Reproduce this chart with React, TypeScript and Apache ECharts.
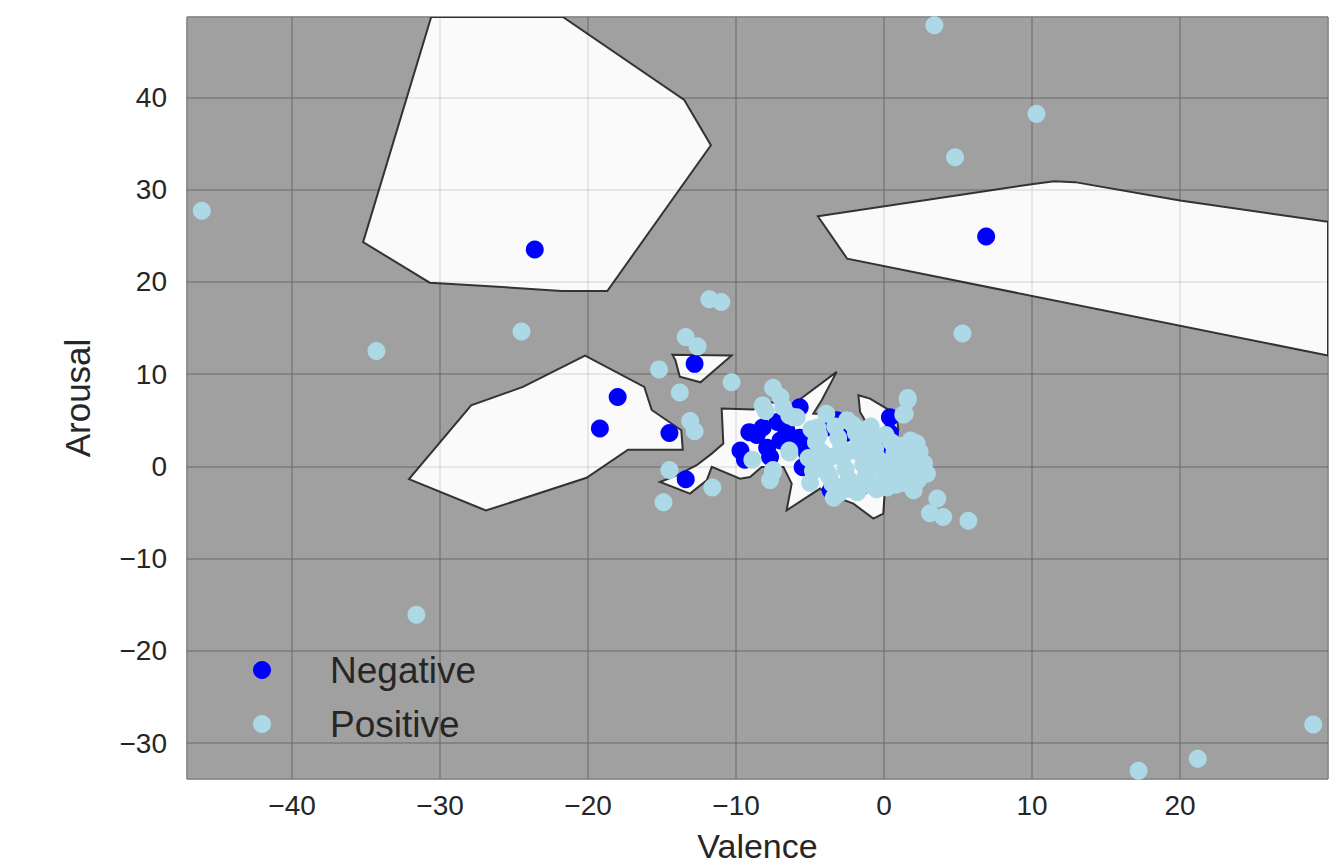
import React, { useEffect, useRef } from "react";
import * as echarts from "echarts";

const xMin = -47.1;
const xMax = 30;
const yMin = -33.9;
const yMax = 48.7;

const seriesNames = ["Negative", "Positive"];

const negativePoints: number[][] = [
  [-23.6, 23.5], [6.9, 24.9], [-12.8, 11.1], [-18.0, 7.5], [-19.2, 4.1], [-14.5, 3.6], [-13.4, -1.4],
  [-5.7, 6.4], [-9.1, 3.7], [-8.2, 4.2], [-7.2, 4.8], [-9.7, 1.7], [-9.4, 0.7], [-7.7, 1.0],
  [-7.0, 2.8], [-5.7, 3.1], [-5.2, 1.4], [-5.5, -0.1], [-3.6, 4.2], [-3.2, 5.0], [-3.6, -2.6],
  [-2.1, -2.3], [0.4, 5.3], [0.4, 3.6], [0.1, 2.3], [-1.6, -2.3], [-8.6, 3.4], [-6.6, 3.9],
  [-6.2, 2.2], [-4.9, 2.6], [-7.9, 2.0], [-4.4, 0.2], [-2.7, 3.5], [-1.2, -1.6], [-0.8, 1.2],
];

const positivePoints: number[][] = [
  [-46.1, 27.7], [3.4, 47.8], [10.3, 38.2], [4.8, 33.5], [-34.3, 12.5], [-24.5, 14.6], [5.3, 14.4],
  [-11.8, 18.1], [-11.0, 17.8], [-13.4, 14.0], [-12.6, 13.0], [-15.2, 10.5], [-10.3, 9.1],
  [-13.8, 8.0], [-13.1, 4.9], [-12.8, 3.8], [-14.5, -0.4], [-14.9, -3.9], [-11.6, -2.3],
  [-31.6, -16.1], [17.2, -33.0], [21.2, -31.7], [29.0, -28.0], [5.7, -5.9], [3.1, -5.1],
  [4.0, -5.5], [3.6, -3.5], [1.6, 7.2], [1.4, 5.7], [1.8, 2.8], [2.2, 2.5], [2.9, -0.8],
  [2.0, -2.6], [-3.4, -3.4], [-7.5, 8.5], [-7.0, 7.5], [-8.2, 6.6], [-6.4, 5.5], [-5.9, 5.3],
  [-8.9, 0.7], [-6.4, 1.7], [-7.5, -0.6], [-7.7, -1.5], [-4.5, 4.2], [-3.9, 5.7], [-8.0, 6.0],
  [-6.8, 6.4], [-6.1, 5.3], [-6.4, 1.5], [-7.5, -0.4], [-1.8, 4.1], [1.6, 7.4], [1.3, 5.6],
  [-4.6, 2.6], [-4.2, 1.5], [-4.0, 0.4], [-3.8, -0.8], [-3.5, -1.9], [-3.1, 3.1], [-2.9, 2.0],
  [-2.8, 0.9], [-2.6, -0.3], [-2.4, -1.4], [-2.2, -2.5], [-1.9, 3.6], [-1.7, 2.4], [-1.5, 1.3],
  [-1.4, 0.2], [-1.2, -0.9], [-1.0, -2.0], [-0.8, 3.0], [-0.6, 1.9], [-0.4, 0.8], [-0.2, -0.3],
  [0.0, -1.4], [0.2, -2.3], [0.5, 2.6], [0.7, 1.5], [0.9, 0.4], [1.1, -0.7], [1.3, -1.8],
  [1.5, 1.0], [1.7, -0.2], [2.0, 0.6], [2.3, -1.5], [2.6, -0.5], [-3.3, 4.3], [-2.1, 4.5],
  [-0.9, 4.3], [-4.8, -0.5], [-4.4, 3.4], [-3.0, -2.9], [-1.8, -2.8], [-0.5, -2.5], [0.8, -2.0],
  [1.9, -1.1], [-5.1, 0.9], [-2.0, 1.7], [-0.9, 0.5], [0.3, 0.1], [-3.6, 1.0], [-1.1, 2.7],
  [0.1, 3.4], [1.2, 2.2], [2.4, 1.6], [2.7, 0.3], [-4.9, 4.0], [-2.5, 5.0], [-1.4, -1.6],
  [-3.7, -1.1], [-5.0, -1.8], [-1.3, 3.8], [0.6, -0.8],
];

// decision regions (white) drawn over the grey background
const regionA: number[][] = [
  [-30.6, 48.7], [-21.7, 48.7], [-13.5, 39.7], [-11.7, 34.8], [-18.7, 19.0], [-21.8, 19.0],
  [-27.5, 19.6], [-30.7, 19.9], [-35.2, 24.3],
];
const regionB: number[][] = [
  [-4.47, 27.1], [10.1, 30.6], [11.5, 30.9], [12.9, 30.8], [20, 28.8], [30, 26.5], [30, 12.0],
  [-2.49, 22.5],
];
const regionC: number[][] = [
  [-32.1, -1.4], [-26.9, -4.8], [-20.1, -1.25], [-17.3, 1.8], [-13.6, 1.8], [-13.7, 3.9],
  [-15.7, 6.1], [-16.2, 8.6], [-20.2, 12.0], [-24.4, 8.6], [-27.9, 6.6],
];
const regionD: number[][] = [
  [-14.3, 12.1], [-10.3, 12.0], [-12.4, 9.1], [-13.8, 9.7], [-14.1, 11.5],
];
const regionE: number[][] = [
  [-15.14, -1.7], [-14.0, -0.98], [-12.66, 0.11], [-11.64, 1.37], [-10.86, 2.46], [-10.97, 6.26],
  [-8.83, 6.15], [-8.15, 6.98], [-6.13, 6.72], [-3.2, 10.23], [-4.21, 7.16], [-4.78, 5.71],
  [-2.75, 5.53], [-2.41, 5.78], [-2.52, 4.27], [-0.72, 3.18], [0.18, 0.65], [0.07, -2.24],
  [-0.05, -5.13], [-0.72, -5.68], [-2.07, -4.05], [-3.87, -2.96], [-4.32, -2.42], [-6.58, -4.77],
  [-6.24, -1.88], [-6.8, -0.07], [-8.27, -0.07], [-9.05, -1.16], [-9.73, -1.34], [-11.64, -0.07],
  [-11.98, -1.52], [-13.11, -2.96],
];
const regionF: number[][] = [
  [-1.73, 7.7], [-0.95, 7.34], [0.18, 6.26], [0.86, 5.35], [0.97, 3.9], [0.29, 2.64],
  [-0.16, 1.55], [-0.72, 2.82], [-1.17, 4.63], [-1.62, 5.89],
];
const regions = [regionA, regionB, regionC, regionD, regionE, regionF];

const fmt = (v: number) => (v < 0 ? "\u2212" + Math.abs(v) : String(v));
const FONT = "'Liberation Sans', Arial, Helvetica, sans-serif";
const TXT = "#262626";

export default function App() {
  const ref = useRef<HTMLDivElement>(null);
  useEffect(() => {
    if (!ref.current) return;
    const chart = echarts.init(ref.current, undefined, { renderer: "svg" });

    const baseAxis = (min: number, max: number) => ({
      type: "value" as const,
      min,
      max,
      splitNumber: 8,
      minInterval: 10,
      maxInterval: 10,
      axisLine: { show: false },
      axisTick: { show: false },
    });

    chart.setOption({
      animation: false,
      backgroundColor: "#ffffff",
      textStyle: { fontFamily: FONT },
      grid: {
        left: 187,
        right: 14,
        top: 17,
        bottom: 88,
        outerBoundsMode: "none",
        containLabel: false,
        show: true,
        backgroundColor: "#a0a0a0",
        borderColor: "#dcdcdc",
        borderWidth: 1,
      },
      legend: {
        orient: "vertical",
        left: 248,
        top: 645,
        itemWidth: 18,
        itemHeight: 18,
        itemGap: 14,
        icon: "circle",
        data: seriesNames,
        textStyle: {
          fontSize: 37,
          color: TXT,
          fontFamily: FONT,
          lineHeight: 40,
          padding: [0, 0, 0, 54],
        },
      },
      xAxis: [
        {
          ...baseAxis(xMin, xMax),
          z: 0,
          name: "Valence",
          nameLocation: "middle",
          nameGap: 50,
          nameTextStyle: { fontSize: 34, color: TXT, fontFamily: FONT },
          axisLabel: {
            fontSize: 28,
            color: TXT,
            fontFamily: FONT,
            margin: 12,
            showMinLabel: false,
            showMaxLabel: false,
            formatter: fmt,
          },
          splitLine: { show: true, lineStyle: { color: "#8a8a8a", width: 1.5 } },
        },
        {
          ...baseAxis(xMin, xMax),
          z: 3,
          axisLabel: { show: false },
          splitLine: { show: true, lineStyle: { color: "rgba(0,0,0,0.1)", width: 1.5 } },
        },
      ],
      yAxis: [
        {
          ...baseAxis(yMin, yMax),
          z: 0,
          name: "Arousal",
          nameLocation: "middle",
          nameGap: 92,
          nameTextStyle: { fontSize: 35, color: TXT, fontFamily: FONT },
          axisLabel: {
            fontSize: 28,
            color: TXT,
            fontFamily: FONT,
            margin: 20,
            showMinLabel: false,
            showMaxLabel: false,
            formatter: fmt,
          },
          splitLine: { show: true, lineStyle: { color: "#8a8a8a", width: 1.5 } },
        },
        {
          ...baseAxis(yMin, yMax),
          z: 3,
          axisLabel: { show: false },
          splitLine: { show: true, lineStyle: { color: "rgba(0,0,0,0.1)", width: 1.5 } },
        },
      ],
      series: [
        {
          type: "custom",
          name: "regions",
          xAxisIndex: 0,
          yAxisIndex: 0,
          z: 2,
          clip: true,
          silent: true,
          data: regions.map((r) => r[0]),
          renderItem: (params: any, api: any) => {
            const poly = regions[params.dataIndex];
            const points = poly.map((p) => api.coord(p));
            return {
              type: "polygon",
              shape: { points },
              style: { fill: "#fafafa", stroke: "#333333", lineWidth: 2 },
            };
          },
        },
        {
          type: "scatter",
          name: "Negative",
          xAxisIndex: 0,
          yAxisIndex: 0,
          z: 5,
          symbolSize: 18,
          itemStyle: { color: "#0000ff", opacity: 1 },
          data: negativePoints,
        },
        {
          type: "scatter",
          name: "Positive",
          xAxisIndex: 0,
          yAxisIndex: 0,
          z: 6,
          symbolSize: 18,
          itemStyle: { color: "#add8e6", opacity: 1 },
          data: positivePoints,
        },
      ],
    });
    return () => chart.dispose();
  }, []);

  return <div ref={ref} style={{ width: 1342, height: 867, position: "absolute", left: 0, top: 0 }} />;
}
